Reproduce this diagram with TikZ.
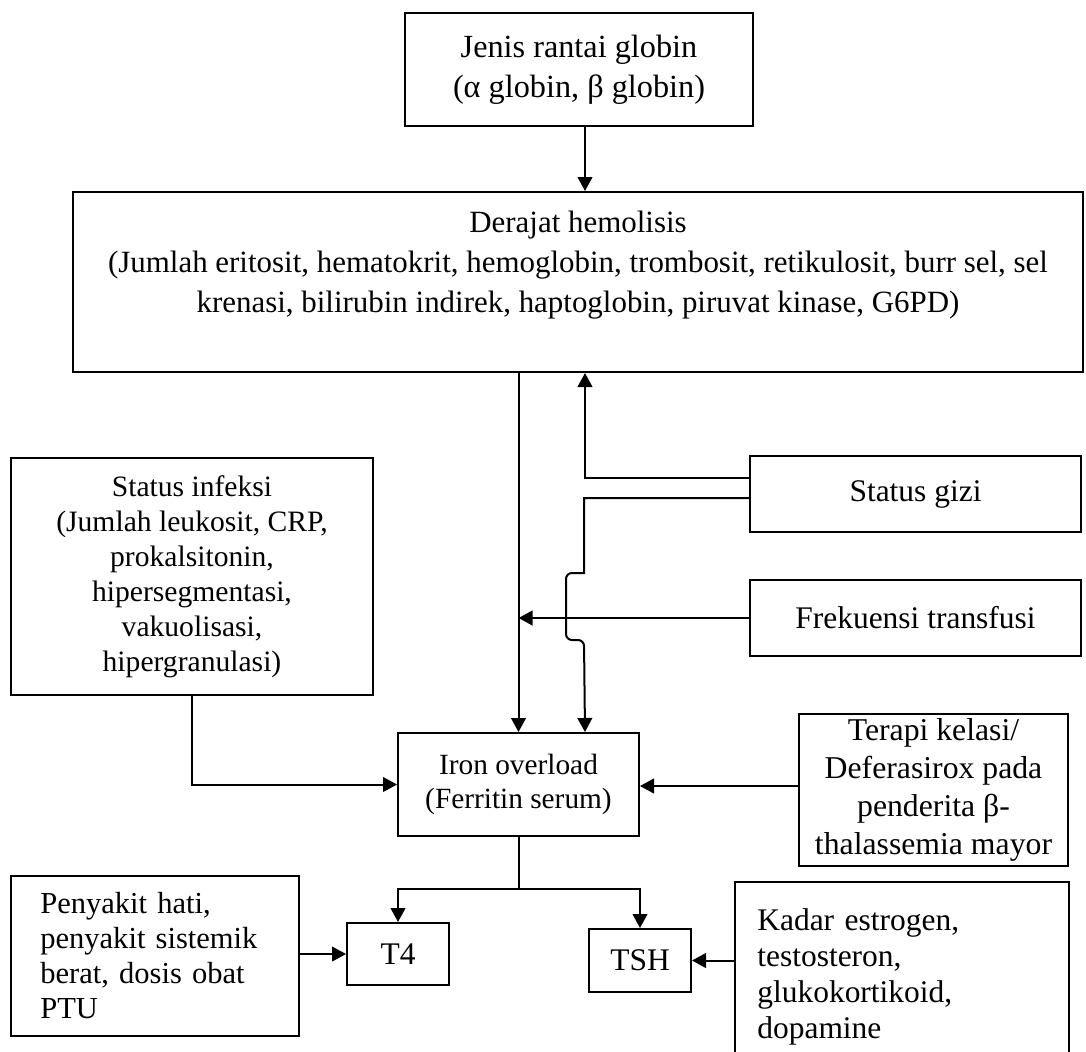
\documentclass[tikz,border=0pt]{standalone}
\usepackage{fontspec}
\setmainfont{Liberation Serif}
\usetikzlibrary{arrows.meta, positioning, calc}
\newcommand{\boxfont}[2]{\fontsize{#1}{#2}\selectfont}
\tikzset{
>={Triangle[width=11pt,length=10.5pt]},
every node/.append style={font=\boxfont{23.6pt}{30pt}},
box/.style={draw, line width=1.5pt, inner sep=0pt, align=center},
link/.style={line width=1.5pt},
}

\begin{document}
\begin{tikzpicture}[x=0.75pt, y=-0.75pt]
            \useasboundingbox (0,0) rectangle (1086,1051);
            \coordinate (col) at (585,0);

            \node[box, minimum width=261pt, minimum height=84.75pt, font=\boxfont{24.2pt}{30pt}] (glob) at (579,69.5) {Jenis rantai globin\\(α globin, β globin)};
            \node[box, minimum width=757.5pt, minimum height=135pt, font=\boxfont{23.2pt}{30pt}] (hemo) at (578,282) {Derajat hemolisis\\(Jumlah eritosit, hematokrit, hemoglobin, trombosit, retikulosit, burr sel, sel\\krenasi, bilirubin indirek, haptoglobin, piruvat kinase, G6PD)\\\mbox{}};
            \node[box, minimum width=271.5pt, minimum height=177.75pt, font=\boxfont{22.2pt}{26.25pt}] (infeksi) at (192,576.5) {Status infeksi\\(Jumlah leukosit, CRP,\\prokalsitonin,\\hipersegmentasi,\\vakuolisasi,\\hipergranulasi)};
            \node[box, minimum width=248.25pt, minimum height=57pt] (gizi) at (915.5,494) {Status gizi};
            \node[box, minimum width=248.25pt, minimum height=57pt] (frek) at (915.5,618) {Frekuensi transfusi};
            \node[box, minimum width=180.75pt, minimum height=77.25pt, font=\boxfont{22pt}{25.5pt}] (iron) at (518.5,784.5) {Iron overload\\(Ferritin serum)};
            \node[box, minimum width=201.75pt, minimum height=114pt, font=\boxfont{23.8pt}{28.5pt}] (terapi) at (933.5,790) {Terapi kelasi/\\Deferasirox pada\\penderita β-\\thalassemia mayor};
            \node[box, minimum width=216pt, minimum height=120pt, text width=172pt, align=left, font=\boxfont{22.9pt}{26.25pt}] (hati) at (155,956) {Penyakit hati,\\penyakit sistemik\\berat, dosis obat\\PTU};
            \node[box, minimum width=76.5pt, minimum height=46.5pt] (t4) at (398,954) {T4};
            \node[box, minimum width=76.5pt, minimum height=47.25pt] (tsh) at (640,960.5) {TSH};
            \node[box, minimum width=250.5pt, minimum height=142.5pt, text width=217pt, align=left, font=\boxfont{23.6pt}{27pt}] (kadar) at (902,977) {Kadar estrogen,\\testosteron,\\glukokortikoid,\\dopamine};

            % Into Derajat hemolisis
            \draw[link, ->] (glob.south -| col) -- (hemo.north -| col);
            \draw[link, ->] ([yshift=12pt]gizi.west) -| (hemo.south -| col);

            % Into Iron overload
            \draw[link, ->] (hemo.south -| iron.north) -- (iron.north);
            \draw[link, ->] ([yshift=-3pt]gizi.west) -| ++(-165,75) [rounded corners=4.5pt] -- ++(-18,0) -- ++(0,67) -- ++(18,0) [sharp corners] -- (iron.north -| col);
            \draw[link, ->] (frek.west) -- (frek.west -| iron.north);
            \draw[link, ->] (infeksi.south) |- (iron.west);
            \draw[link, ->] ([yshift=3pt]terapi.west) -- ([yshift=3pt]terapi.west -| iron.east);

            % From Iron overload to T4 and TSH
            \draw[link] (iron.south) -- ++(0,52) coordinate (split);
            \draw[link, ->] (split) -| (t4.north);
            \draw[link, ->] (split) -| (tsh.north);
            \draw[link, ->] (hati.east |- t4.west) -- (t4.west);
            \draw[link, ->] (tsh.east -| kadar.west) -- (tsh.east);
\end{tikzpicture}
\end{document}
